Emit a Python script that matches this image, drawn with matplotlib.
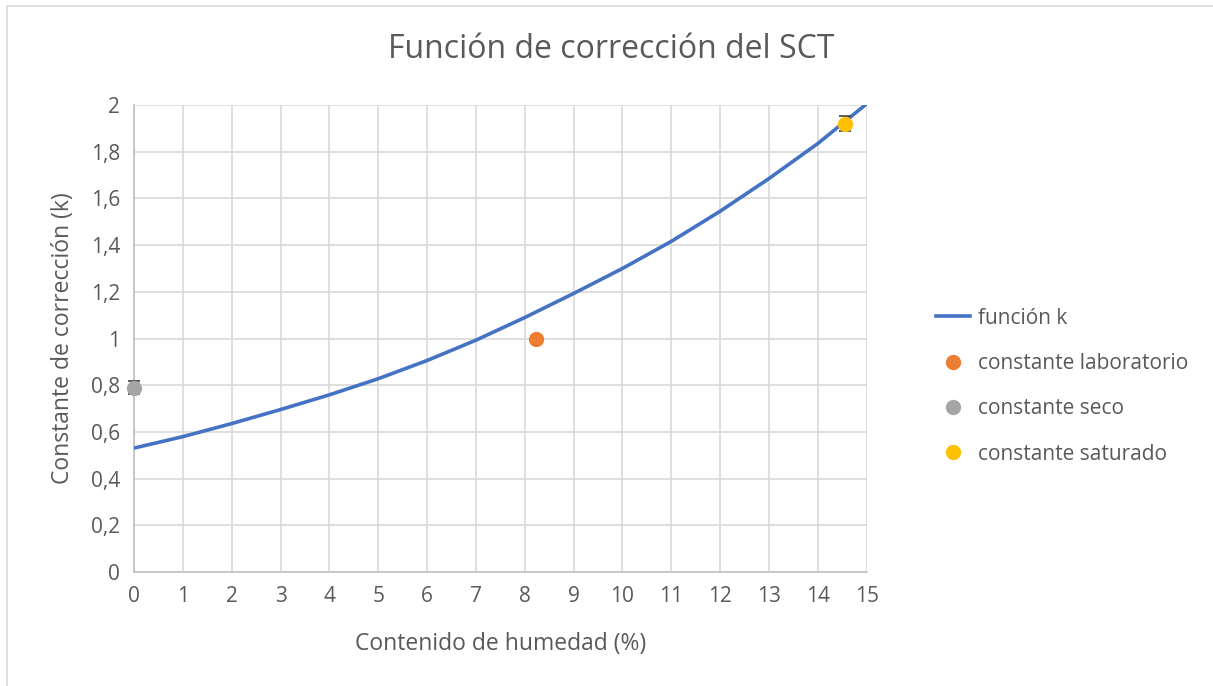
import numpy as np
import matplotlib.pyplot as plt
from matplotlib.patches import Rectangle
from matplotlib.lines import Line2D
from matplotlib.ticker import FuncFormatter, MultipleLocator

plt.rcParams['font.family'] = ['Open Sans', 'DejaVu Sans']

# curva k(humedad) leida cada 1 %
hum = [0, 1, 2, 3, 4, 5, 6, 7, 8, 9, 10, 11, 12, 13, 14, 15]
k_fun = [0.531, 0.580, 0.636, 0.696, 0.759, 0.828, 0.906, 0.993, 1.090, 1.193,
         1.300, 1.416, 1.545, 1.685, 1.835, 2.005]

# constantes medidas
x_lab, y_lab = [8.22], [1.0]
x_seco, y_seco, e_seco = [0.0], [0.79], [0.029]
x_sat, y_sat, e_sat = [14.55], [1.92], [0.033]

gris_txt = '#595959'
c_lin, c_lab, c_seco, c_sat = '#4472c4', '#ed7d31', '#a5a5a5', '#ffc000'

fig = plt.figure(figsize=(12.13, 6.86), dpi=100)
ax = fig.add_axes([0.1105, 0.166, 0.604, 0.681])

# marco del grafico
fig.add_artist(Rectangle((7 / 1213, -0.2), 2, 1.2 - 6 / 686, transform=fig.transFigure,
                         fill=False, edgecolor='#d9d9d9', lw=1.2))

ax.plot(hum, k_fun, color=c_lin, lw=2.6, zorder=3, solid_capstyle='round',
        solid_joinstyle='round')
ax.plot(x_lab, y_lab, 'o', color=c_lab, ms=10, zorder=4)
ax.errorbar(x_seco, y_seco, yerr=e_seco, fmt='o', color=c_seco, ms=10,
            ecolor='#404040', elinewidth=1, capsize=4, capthick=1.2, zorder=4,
            clip_on=False)
ax.errorbar(x_sat, y_sat, yerr=e_sat, fmt='o', color=c_sat, ms=10,
            ecolor='#404040', elinewidth=1, capsize=4, capthick=1.2, zorder=4)

ax.set_xlim(0, 15)
ax.set_ylim(0, 2)
ax.xaxis.set_major_locator(MultipleLocator(1))
ax.yaxis.set_major_locator(MultipleLocator(0.2))
ax.yaxis.set_major_formatter(FuncFormatter(
    lambda v, p: ('%.1f' % v).rstrip('0').rstrip('.').replace('.', ',')))
ax.grid(True, color='#d9d9d9', lw=1.2, zorder=0)
ax.set_axisbelow(True)
for s in ['top', 'right']:
    ax.spines[s].set_visible(False)
for s in ['left', 'bottom']:
    ax.spines[s].set_color('#bfbfbf')
    ax.spines[s].set_linewidth(1.2)
ax.tick_params(length=0, labelsize=15, colors=gris_txt, pad=10)

fig.text(611 / 1213, 1 - 50 / 686, 'Función de corrección del SCT', fontsize=23,
         color=gris_txt, ha='center', va='center')
ax.set_xlabel('Contenido de humedad (%)', fontsize=16.5, color=gris_txt, labelpad=18)
ax.set_ylabel('Constante de corrección (k)', fontsize=16.5, color=gris_txt, labelpad=11)

handles = [
    Line2D([], [], color=c_lin, lw=2.6),
    Line2D([], [], ls='none', marker='o', color=c_lab, ms=10),
    Line2D([], [], ls='none', marker='o', color=c_seco, ms=10),
    Line2D([], [], ls='none', marker='o', color=c_sat, ms=10),
]
labels = ['función k', 'constante laboratorio', 'constante seco', 'constante saturado']
leg = ax.legend(handles, labels, loc='center left', bbox_to_anchor=(1.095, 0.398),
                frameon=False, fontsize=15, handlelength=1.6, handletextpad=0.4,
                labelspacing=1.17, borderaxespad=0, borderpad=0)
for t in leg.get_texts():
    t.set_color(gris_txt)

fig.savefig('out.png', dpi=100)
